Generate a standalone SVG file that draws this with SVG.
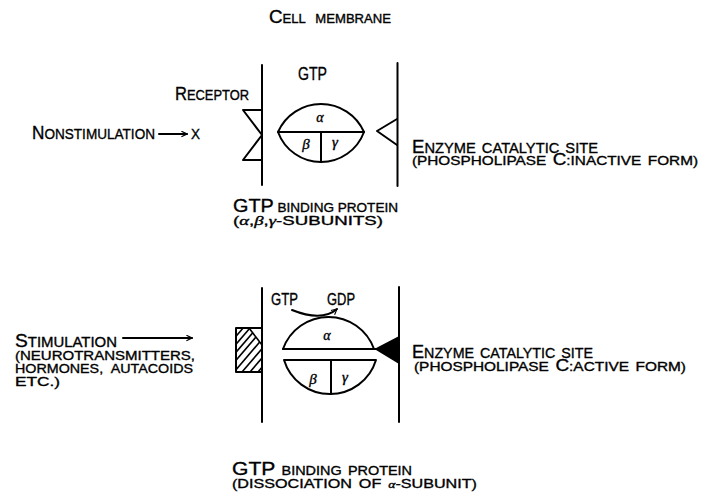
<svg xmlns="http://www.w3.org/2000/svg" width="704" height="496" viewBox="0 0 704 496">
<style>
text{font-family:"Liberation Sans","DejaVu Sans",sans-serif;fill:#000;stroke:#000;stroke-width:0.35}
.g{font-family:"Liberation Serif","DejaVu Serif",serif;font-style:italic}
.ln{stroke:#000;stroke-width:2;fill:none;stroke-linecap:round;stroke-linejoin:round}
.hl{stroke:#000;stroke-width:1.6}
</style>
<defs>
<marker id="ah" viewBox="0 0 10 10" refX="9" refY="5" markerWidth="7" markerHeight="7" orient="auto" markerUnits="userSpaceOnUse">
<path d="M1,1 L9,5 L1,9" fill="none" stroke="#000" stroke-width="1.6"/>
</marker>
<clipPath id="hc"><polygon points="236,328 249,328 262,345 262,372 236,372"/></clipPath>
</defs>

<text id="title" x="269" y="23" textLength="122" lengthAdjust="spacingAndGlyphs" word-spacing="6"><tspan font-size="18">C</tspan><tspan font-size="12.5">ELL MEMBRANE</tspan></text>

<!-- top panel -->
<g id="membrane-top">
<line class="ln" x1="262" y1="65" x2="262" y2="185"/>
<line class="ln" x1="397.5" y1="63" x2="397.5" y2="186"/>
</g>
<g id="receptor-top">
<polyline class="ln" points="262,110 243,110 262,135 243,160 262,160"/>
<text x="175" y="100" textLength="74" lengthAdjust="spacingAndGlyphs"><tspan font-size="18">R</tspan><tspan font-size="14">ECEPTOR</tspan></text>
</g>
<g id="nonstim">
<text x="32" y="139" textLength="123" lengthAdjust="spacingAndGlyphs"><tspan font-size="19">N</tspan><tspan font-size="15">ONSTIMULATION</tspan></text>
<text x="191" y="139" font-size="15" textLength="9" lengthAdjust="spacingAndGlyphs">X</text>
</g>
<g id="gprotein-top">
<text x="298" y="80" font-size="18" textLength="29" lengthAdjust="spacingAndGlyphs">GTP</text>
<path class="ln" d="M278,132 A47,47 0 0 1 364,132 A45.8,45.8 0 0 1 278,132 Z"/>
<line class="ln" x1="278" y1="132" x2="364" y2="132"/>
<line class="ln" x1="321" y1="132" x2="321" y2="162"/>
<text class="g" x="320" y="122" font-size="14" text-anchor="middle">α</text>
<text class="g" x="306" y="149" font-size="15" text-anchor="middle">β</text>
<text class="g" x="335" y="147" font-size="15" text-anchor="middle">γ</text>
<text lengthAdjust="spacingAndGlyphs"><tspan x="233" y="212" textLength="165" lengthAdjust="spacingAndGlyphs"><tspan font-size="19">GTP</tspan><tspan font-size="13"> BINDING PROTEIN</tspan></tspan><tspan x="233" y="225" font-size="13" textLength="150" lengthAdjust="spacingAndGlyphs">(<tspan class="g">α</tspan>,<tspan class="g">β</tspan>,<tspan class="g">γ</tspan>-SUBUNITS)</tspan></text>
</g>
<g id="enzyme-top">
<polyline class="ln" points="397,119 377,131 397,145"/>
<text word-spacing="2"><tspan x="412" y="153" textLength="186" lengthAdjust="spacingAndGlyphs"><tspan font-size="19">E</tspan><tspan font-size="15">NZYME CATALYTIC SITE</tspan></tspan><tspan x="412" y="165" textLength="286" lengthAdjust="spacingAndGlyphs"><tspan font-size="13">(PHOSPHOLIPASE </tspan><tspan font-size="16">C</tspan><tspan font-size="13">:INACTIVE FORM)</tspan></tspan></text>
</g>

<!-- bottom panel -->
<g id="membrane-bottom">
<line class="ln" x1="262" y1="288" x2="262" y2="422"/>
<line class="ln" x1="399" y1="287" x2="399" y2="422"/>
</g>
<g id="receptor-bottom">
<g clip-path="url(#hc)">
<line class="hl" x1="226" y1="372" x2="262" y2="330"/>
<line class="hl" x1="226" y1="364" x2="262" y2="322"/>
<line class="hl" x1="226" y1="356" x2="262" y2="314"/>
<line class="hl" x1="226" y1="348" x2="262" y2="306"/>
<line class="hl" x1="226" y1="340" x2="262" y2="298"/>
<line class="hl" x1="234" y1="372" x2="270" y2="330"/>
<line class="hl" x1="242" y1="372" x2="278" y2="330"/>
<line class="hl" x1="250" y1="372" x2="286" y2="330"/>
<line class="hl" x1="258" y1="372" x2="294" y2="330"/>
</g>
<line class="hl" x1="249" y1="328" x2="262" y2="345"/>
<rect class="ln" x="236" y="328" width="26" height="44"/>
</g>
<g id="stim">
<text><tspan x="15" y="347" textLength="102" lengthAdjust="spacingAndGlyphs"><tspan font-size="18">S</tspan><tspan font-size="14">TIMULATION</tspan></tspan><tspan x="15" y="360" font-size="13" textLength="180" lengthAdjust="spacingAndGlyphs">(NEUROTRANSMITTERS,</tspan><tspan x="15" y="373" font-size="13" textLength="178" lengthAdjust="spacingAndGlyphs" word-spacing="4">HORMONES, AUTACOIDS</tspan><tspan x="15" y="386" font-size="13" textLength="45" lengthAdjust="spacingAndGlyphs">ETC.)</tspan></text>
</g>
<g id="gprotein-bottom">
<text x="271" y="305" font-size="17" textLength="27" lengthAdjust="spacingAndGlyphs">GTP</text>
<text x="327" y="305" font-size="17" textLength="28" lengthAdjust="spacingAndGlyphs">GDP</text>
<path class="ln" d="M283,349 A48.3,48.3 0 0 1 374,349"/>
<line class="ln" x1="283" y1="349" x2="377" y2="349"/>
<path class="ln" d="M284,360 L376,360 A48.1,48.1 0 0 1 284,360 Z"/>
<line class="ln" x1="331" y1="360" x2="331" y2="394"/>
<text class="g" x="327" y="340" font-size="14" text-anchor="middle">α</text>
<text class="g" x="313" y="384" font-size="15" text-anchor="middle">β</text>
<text class="g" x="345" y="382" font-size="15" text-anchor="middle">γ</text>
<text word-spacing="2"><tspan x="232" y="475" textLength="180" lengthAdjust="spacingAndGlyphs"><tspan font-size="19">GTP</tspan><tspan font-size="13"> BINDING PROTEIN</tspan></tspan><tspan x="232" y="488" font-size="13" textLength="245" lengthAdjust="spacingAndGlyphs">(DISSOCIATION OF <tspan class="g" font-size="11">α</tspan>-SUBUNIT)</tspan></text>
</g>
<g id="enzyme-bottom">
<polygon points="399,337 376,349 399,363" fill="#000" stroke="#000" stroke-width="1.5" stroke-linejoin="round"/>
<text word-spacing="2"><tspan x="412" y="358" textLength="181" lengthAdjust="spacingAndGlyphs"><tspan font-size="19">E</tspan><tspan font-size="15">NZYME CATALYTIC SITE</tspan></tspan><tspan x="414" y="371" textLength="272" lengthAdjust="spacingAndGlyphs"><tspan font-size="13">(PHOSPHOLIPASE </tspan><tspan font-size="16">C</tspan><tspan font-size="13">:ACTIVE FORM)</tspan></tspan></text>
</g>

<g id="connectors">
<line class="ln" x1="159" y1="134" x2="187" y2="134" marker-end="url(#ah)"/>
<line class="ln" x1="123" y1="338" x2="192" y2="338" marker-end="url(#ah)" stroke-width="1.6"/>
<path class="ln" d="M292,310 Q322,322 337,309" stroke-width="1.6" marker-end="url(#ah)"/>
</g>
</svg>
